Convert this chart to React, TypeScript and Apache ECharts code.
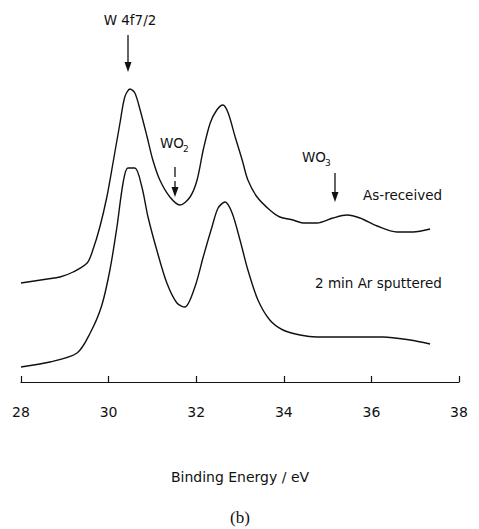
import React, { useEffect, useRef } from "react";
import * as echarts from "echarts";

// Binding energy (eV) and intensity (arb. units)
const energyAsReceived = [28.0, 28.6, 28.89, 29.19, 29.51, 29.64, 29.8, 29.96, 30.1, 30.26, 30.37, 30.49, 30.6, 30.72, 30.88, 31.01, 31.17, 31.4, 31.63, 31.86, 32.02, 32.16, 32.32, 32.47, 32.61, 32.73, 32.89, 33.05, 33.18, 33.39, 33.68, 33.91, 34.21, 34.44, 34.76, 35.12, 35.44, 35.74, 36.13, 36.58, 36.95, 37.34];
const intensityAsReceived = [99, 103, 105, 110, 119, 132, 155, 185, 219, 259, 285, 293, 289, 272, 245, 222, 202, 185, 177, 185, 202, 232, 259, 272, 277, 269, 245, 222, 202, 185, 172, 165, 162, 159, 159, 164, 167, 164, 156, 150, 150, 153];

const energySputtered = [28.0, 28.66, 29.28, 29.58, 29.84, 30.03, 30.19, 30.33, 30.44, 30.6, 30.76, 30.9, 31.1, 31.33, 31.56, 31.74, 31.97, 32.16, 32.36, 32.5, 32.66, 32.82, 33.0, 33.18, 33.41, 33.68, 33.98, 34.37, 34.76, 35.5, 36.27, 36.88, 37.34];
const intensitySputtered = [15, 20, 29, 49, 76, 112, 155, 199, 214, 214, 195, 165, 132, 99, 79, 75, 95, 125, 155, 174, 180, 169, 142, 112, 82, 62, 52, 47, 45, 45, 45, 42, 38];

const xMin = 28;
const xMax = 38;
const xInterval = 2;

const FONT = "DejaVu Sans";
const INK = "#111";

function pairs(xs: number[], ys: number[]) {
  return xs.map((x, i) => [x, ys[i]]);
}

function arrow(x: number, y0: number, y1: number, dashed = false) {
  return {
    type: "group",
    children: [
      {
        type: "line",
        shape: { x1: x, y1: y0, x2: x, y2: y1 - 8 },
        style: { stroke: INK, lineWidth: 1.3, lineDash: dashed ? [10, 4] : null },
      },
      {
        type: "polygon",
        shape: { points: [[x - 3.5, y1 - 10], [x + 3.5, y1 - 10], [x, y1]] },
        style: { fill: INK },
      },
    ],
  };
}

export default function App() {
  const ref = useRef<HTMLDivElement>(null);
  useEffect(() => {
    const chart = echarts.init(ref.current!, null, { renderer: "svg" });
    chart.setOption({
      animation: false,
      backgroundColor: "#fff",
      grid: { left: 21, right: 20, top: 82, bottom: 147 },
      xAxis: {
        type: "value",
        min: xMin,
        max: xMax,
        interval: xInterval,
        name: "Binding Energy / eV",
        nameLocation: "middle",
        nameGap: 88,
        nameTextStyle: { fontFamily: FONT, fontSize: 14, color: INK },
        axisLine: { lineStyle: { color: INK, width: 1.2 } },
        axisTick: { inside: true, length: 6, lineStyle: { color: INK, width: 1.2 } },
        axisLabel: { margin: 23, fontFamily: FONT, fontSize: 14, color: INK },
        splitLine: { show: false },
      },
      yAxis: { type: "value", min: 0, max: 300, show: false },
      series: [
        {
          name: "As-received",
          type: "line",
          data: pairs(energyAsReceived, intensityAsReceived),
          smooth: 0.3,
          symbol: "none",
          lineStyle: { color: INK, width: 1.4 },
        },
        {
          name: "2 min Ar sputtered",
          type: "line",
          data: pairs(energySputtered, intensitySputtered),
          smooth: 0.3,
          symbol: "none",
          lineStyle: { color: INK, width: 1.4 },
        },
      ],
      graphic: [
        { type: "text", x: 130, y: 20, style: { text: "W 4f7/2", font: `13.5px "${FONT}"`, fill: INK, textAlign: "center", textVerticalAlign: "middle" } },
        arrow(128, 35, 72),
        { type: "text", x: 160, y: 143, style: { text: "WO", font: `13.5px "${FONT}"`, fill: INK, textAlign: "left", textVerticalAlign: "middle" } },
        { type: "text", x: 183, y: 149, style: { text: "2", font: `9px "${FONT}"`, fill: INK, textAlign: "left", textVerticalAlign: "middle" } },
        arrow(175, 167, 197, true),
        { type: "text", x: 302, y: 157, style: { text: "WO", font: `13.5px "${FONT}"`, fill: INK, textAlign: "left", textVerticalAlign: "middle" } },
        { type: "text", x: 325, y: 163, style: { text: "3", font: `9px "${FONT}"`, fill: INK, textAlign: "left", textVerticalAlign: "middle" } },
        arrow(335, 173, 202),
        { type: "text", x: 363, y: 195, style: { text: "As-received", font: `13.5px "${FONT}"`, fill: INK, textAlign: "left", textVerticalAlign: "middle" } },
        { type: "text", x: 315, y: 283, style: { text: "2 min Ar sputtered", font: `13.5px "${FONT}"`, fill: INK, textAlign: "left", textVerticalAlign: "middle" } },
        { type: "text", x: 240, y: 517, style: { text: "(b)", font: `17px "Liberation Serif"`, fill: INK, textAlign: "center", textVerticalAlign: "middle" } },
      ],
    });
    return () => chart.dispose();
  }, []);
  return <div ref={ref} style={{ position: "fixed", left: 0, top: 0, width: 479, height: 529 }} />;
}
